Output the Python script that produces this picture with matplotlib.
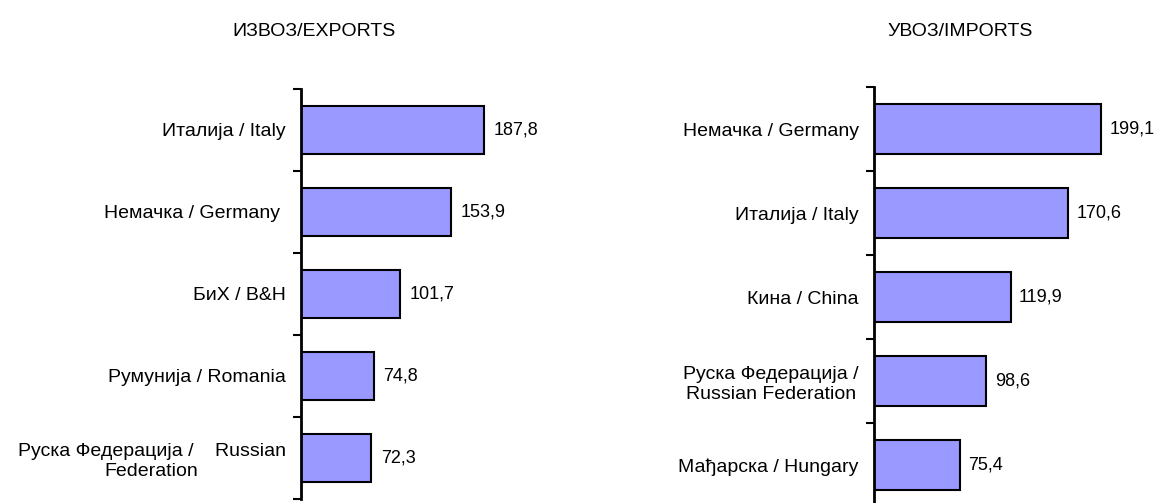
import numpy as np
import matplotlib.pyplot as plt

plt.rcParams['font.family'] = ['Liberation Sans', 'DejaVu Sans']

exp_labels = ['Италија / Italy', 'Немачка / Germany ', 'БиХ / B&H',
              'Румунија / Romania', 'Руска Федерација /    Russian\nFederation']
exp_values = [187.8, 153.9, 101.7, 74.8, 72.3]

imp_labels = ['Немачка / Germany', 'Италија / Italy', 'Кина / China',
              'Руска Федерација /\nRussian Federation', 'Мађарска / Hungary']
imp_values = [199.1, 170.6, 119.9, 98.6, 75.4]

W, H = 1176, 503


def draw_panel(ax, labels, values, xmax):
    n = len(values)
    y = np.arange(n)
    ax.barh(y, values, height=0.59, color='#9999FF', edgecolor='black', linewidth=1.5)
    for yi, v in zip(y, values):
        ax.text(v + xmax * 0.028, yi, f'{v:.1f}'.replace('.', ','),
                va='center', ha='left', fontsize=13)
    ax.set_ylim(n - 0.5, -0.5)
    ax.set_xlim(0, xmax)
    ax.set_yticks(y)
    ax.set_yticklabels(labels, fontsize=14, multialignment='center', linespacing=1.2)
    ax.set_yticks(np.arange(n + 1) - 0.5, minor=True)
    ax.tick_params(axis='y', which='major', length=0, pad=11)
    ax.tick_params(axis='y', which='minor', length=6, width=1.5, direction='out')
    ax.set_xticks([])
    for s in ['top', 'right', 'bottom']:
        ax.spines[s].set_visible(False)
    ax.spines['left'].set_linewidth(2)


fig = plt.figure(figsize=(W / 100, H / 100), dpi=100)

# left panel: axis x=301, y 89..499 (pixels from top)
ax1 = fig.add_axes([301 / W, (H - 499) / H, 330 / W, 410 / H])
draw_panel(ax1, exp_labels, exp_values, 330 / 0.975)

# right panel: axis x=874, y 87..507
ax2 = fig.add_axes([874 / W, (H - 507) / H, 300 / W, 420 / H])
draw_panel(ax2, imp_labels, imp_values, 300 / 1.14)

fig.text(314 / W, 1 - 31 / H, 'ИЗВОЗ/EXPORTS', ha='center', va='center', fontsize=14)
fig.text(960 / W, 1 - 31 / H, 'УВОЗ/IMPORTS', ha='center', va='center', fontsize=14)

fig.savefig('out.png', dpi=100)
